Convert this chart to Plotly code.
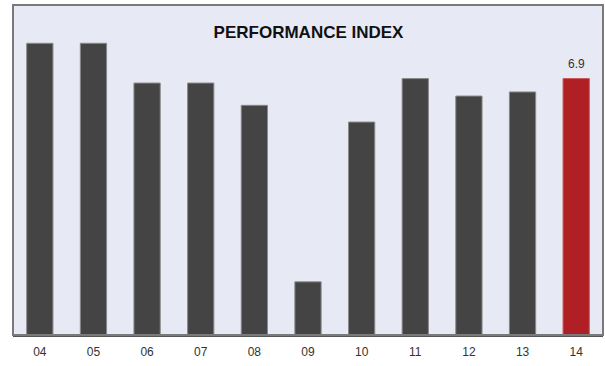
import plotly.graph_objects as go

# Performance index by year
years = ["04", "05", "06", "07", "08", "09", "10", "11", "12", "13", "14"]
index_values = [7.85, 7.85, 6.78, 6.78, 6.18, 1.43, 5.73, 6.9, 6.43, 6.54, 6.9]

bar_colors = ["#444444"] * (len(years) - 1) + ["#b01f24"]
line_colors = ["#8a8a8a"] * (len(years) - 1) + ["#c9585c"]

FONT = "Liberation Sans, Arial, sans-serif"

fig = go.Figure(
    go.Bar(
        x=years,
        y=index_values,
        marker=dict(color=bar_colors, line=dict(color=line_colors, width=1)),
        hoverinfo="x+y",
    )
)

# value label above the latest year's bar (category position given by index)
last = len(years) - 1
fig.add_annotation(
    x=last,
    y=index_values[last],
    text=f"{index_values[last]:.1f}",
    showarrow=False,
    yanchor="bottom",
    yshift=6,
    font=dict(family=FONT, size=12, color="#333333"),
)

fig.update_layout(
    width=605,
    height=366,
    margin=dict(l=13, r=2, t=5, b=31),
    paper_bgcolor="white",
    plot_bgcolor="#e7eaf5",
    bargap=0.51,
    showlegend=False,
    title=dict(
        text="<b>PERFORMANCE INDEX</b>",
        x=0.51,
        xanchor="center",
        y=0.913,
        yanchor="middle",
        font=dict(family=FONT, size=17, color="#111111"),
    ),
    xaxis=dict(
        type="category",
        range=[-0.5, 10.5],
        showgrid=False,
        showline=True,
        linecolor="#555555",
        linewidth=2,
        ticks="outside",
        ticklen=5,
        tickcolor="rgba(0,0,0,0)",
        tickfont=dict(family=FONT, size=12, color="#333333"),
        fixedrange=True,
    ),
    yaxis=dict(
        range=[0, 8.88],
        showgrid=False,
        showticklabels=False,
        zeroline=False,
        ticks="",
        fixedrange=True,
    ),
    shapes=[
        dict(
            type="rect",
            xref="x domain",
            yref="y domain",
            x0=0,
            x1=1,
            y0=0,
            y1=1,
            line=dict(color="#7a7a7a", width=2),
            layer="above",
        )
    ],
)

fig.write_html("out.html")
